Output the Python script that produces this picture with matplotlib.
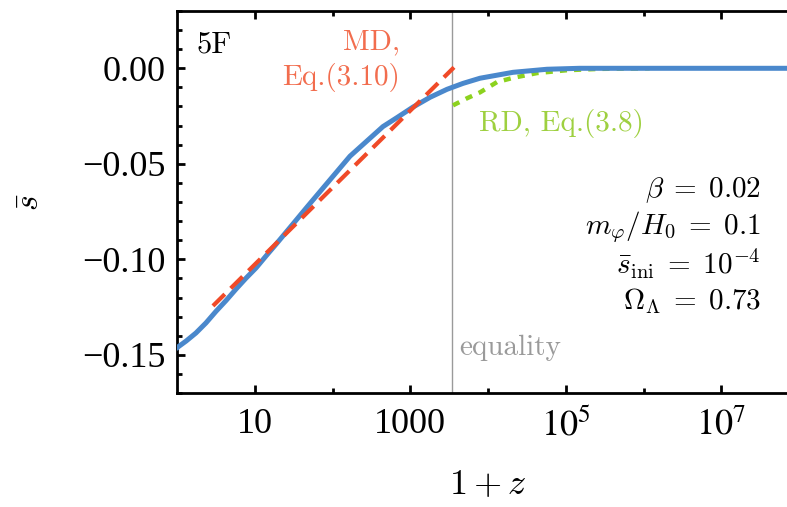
import matplotlib.pyplot as plt
from matplotlib.ticker import FixedLocator, MultipleLocator, NullFormatter

# full numerical solution (blue)
z_full = [1, 1.03, 1.31, 1.75, 2.36, 3.18, 4.27, 5.74, 7.71, 10.4, 14.0, 18.8, 30, 48, 80,
          168, 446, 676, 1085, 1794, 2970, 4770, 7890, 13060, 20990, 57400, 1.5e5, 1e6, 1e8]
s_full = [-0.1465, -0.1459, -0.1428, -0.1386, -0.1333, -0.1272, -0.1216, -0.1156, -0.1099,
          -0.1045, -0.0982, -0.0921, -0.0822, -0.0722, -0.0615, -0.0460, -0.0305, -0.0258,
          -0.0203, -0.0152, -0.0110, -0.0079, -0.0052, -0.0036, -0.0021, -0.0005, 0.0, 0.0, 0.0]

# matter-dominated approximation (red dashed)
z_md = [2.9, 3654]
s_md = [-0.1244, 0.0005]

# radiation-dominated approximation (green dotted)
z_rd = [3548, 5370, 7890, 13060, 20990, 42700, 1.04e5, 2.76e5, 1.2e6]
s_rd = [-0.0194, -0.0157, -0.0126, -0.0072, -0.0050, -0.0025, -0.0010, -0.0003, 0.0]

z_eq = 3400

xticks = [1e1, 1e3, 1e5, 1e7]
xticklabels = ['10', '1000', r'$10^5$', r'$10^7$']
xminor = [1e2, 1e4, 1e6]
yticks = [0.0, -0.05, -0.10, -0.15]
yticklabels = ['0.00', '\u22120.05', '\u22120.10', '\u22120.15']

params = [r'$\beta\;=\;0.02$', r'$m_\varphi/H_0\;=\;0.1$',
          r'$\bar{s}_{\mathrm{ini}}\;=\;10^{-4}$', r'$\Omega_\Lambda\;=\;0.73$']

plt.rcParams['font.family'] = ['Liberation Serif', 'DejaVu Serif']
plt.rcParams['mathtext.fontset'] = 'stix'

W, H = 787, 507
fig = plt.figure(figsize=(W / 100, H / 100), dpi=100)
ax = fig.add_axes([177 / W, (H - 393) / H, (799 - 177) / W, (393 - 11) / H])

ax.axvline(z_eq, color='#9a9a9a', lw=1.0, zorder=1)
ax.plot(z_rd, s_rd, color='#8cd21e', lw=3.2, ls=(0, (1.6, 1.6)), zorder=2)
ax.plot(z_full, s_full, color='#4a88cc', lw=3.6, zorder=3, solid_capstyle='round')
ax.plot(z_md, s_md, color='#f04a28', lw=3.0, ls=(0, (4, 2)), zorder=4)

ax.set_xscale('log')
ax.set_xlim(1, 1e8)
ax.set_ylim(-0.17, 0.03)

ax.xaxis.set_major_locator(FixedLocator(xticks))
ax.set_xticklabels(xticklabels)
ax.xaxis.set_minor_locator(FixedLocator(xminor))
ax.xaxis.set_minor_formatter(NullFormatter())
ax.set_yticks(yticks)
ax.set_yticklabels(yticklabels)
ax.yaxis.set_minor_locator(MultipleLocator(0.01))

ax.tick_params(which='both', direction='in', top=True, right=False, width=2, colors='black')
ax.tick_params(which='major', length=6, labelsize=26)
ax.tick_params(axis='x', which='major', pad=11)
ax.tick_params(axis='y', which='major', pad=8)
ax.tick_params(which='minor', length=3.5)
for sp in ['left', 'bottom', 'top']:
    ax.spines[sp].set_linewidth(2)
ax.spines['right'].set_visible(False)

ax.set_xlabel(r'$1+z$', fontsize=26, labelpad=19, math_fontfamily='cm')
ax.set_ylabel(r'$\bar{s}$', fontsize=24, labelpad=26, math_fontfamily='cm')

def px(x, y):
    return x / W, 1 - y / H

fig.text(*px(196, 45), '5F', fontsize=22, family='cmr10', va='center', ha='left')
fig.text(*px(400, 42), 'MD,', fontsize=21, family='cmr10', color='#f26d4e', va='center', ha='right')
fig.text(*px(400, 78), 'Eq.(3.10)', fontsize=21, family='cmr10', color='#f26d4e', va='center', ha='right')
fig.text(*px(479, 124), 'RD, Eq.(3.8)', fontsize=21, family='cmr10', color='#9ed040', va='center', ha='left')
fig.text(*px(459, 348), 'equality', fontsize=21, family='cmr10', color='#9a9a9a', va='center', ha='left')

for i, p in enumerate(params):
    fig.text(*px(761, 190 + 37 * i), p, fontsize=21, ha='right', va='center', math_fontfamily='cm')

fig.savefig('out.png', dpi=100)
